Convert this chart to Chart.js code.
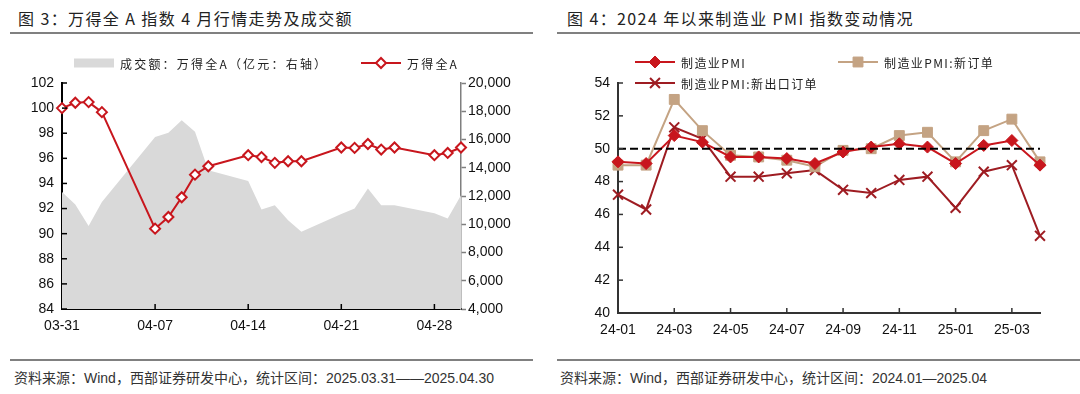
<!DOCTYPE html>
<html>
<head>
<meta charset="utf-8">
<script src="https://cdn.jsdelivr.net/npm/chart.js@4.4.1/dist/chart.umd.min.js"></script>
<style>
  body { margin: 0; width: 1080px; height: 394px; background: #fff; position: relative; overflow: hidden; }
  .title { position: absolute; top: 6px; height: 20px; line-height: 20px; font: 16px 'Noto Sans CJK SC', sans-serif; color: #222; white-space: nowrap; letter-spacing: 1.4px; }
  .rule { position: absolute; height: 2px; background: #808080; }
  .source { position: absolute; top: 369px; line-height: 18px; font-size: 14px; font-family: 'Liberation Sans', 'Noto Sans CJK SC', sans-serif; color: #333; white-space: nowrap; }
  canvas { position: absolute; }
</style>
</head>
<body>
<div class="title" style="left:18px">图 3：万得全 A 指数 4 月行情走势及成交额</div>
<div class="title" style="left:567px">图 4：2024 年以来制造业 PMI 指数变动情况</div>
<div class="rule" style="left:10px;width:523px;top:32px"></div>
<div class="rule" style="left:557px;width:523px;top:32px"></div>
<div class="rule" style="left:10px;width:523px;top:359px"></div>
<div class="rule" style="left:557px;width:523px;top:359px"></div>
<div class="source" style="left:14px">资料来源：Wind，西部证券研发中心，统计区间：2025.03.31——2025.04.30</div>
<div class="source" style="left:560px">资料来源：Wind，西部证券研发中心，统计区间：2024.01—2025.04</div>

<canvas id="left" width="520" height="320" style="left:0;top:40px"></canvas>
<canvas id="right" width="540" height="320" style="left:540px;top:40px"></canvas>

<script>
// 图3 数据：交易日、万得全A（指数化）、成交额（亿元）
const tradeDays = ['03-31','04-01','04-02','04-03','04-07','04-08','04-09','04-10','04-11',
  '04-14','04-15','04-16','04-17','04-18','04-21','04-22','04-23','04-24','04-25','04-28','04-29','04-30'];
const windA = [100.0, 100.43, 100.48, 99.68, 90.4, 91.33, 92.9, 94.7, 95.37,
  96.25, 96.1, 95.64, 95.77, 95.77, 96.86, 96.83, 97.14, 96.7, 96.86, 96.25, 96.43, 96.86];
const turnover = [12290, 11400, 9870, 11570, 16180, 16470, 17360, 16540, 13830,
  13070, 11050, 11350, 10290, 9470, 10720, 11120, 12530, 11350, 11350, 10770, 10410, 12060];
const dayTicks = ['03-31','04-07','04-14','04-21','04-28'];

// 图4 数据
const months = ['24-01','24-02','24-03','24-04','24-05','24-06','24-07','24-08',
  '24-09','24-10','24-11','24-12','25-01','25-02','25-03','25-04'];
const pmi = [49.2, 49.1, 50.8, 50.4, 49.5, 49.5, 49.4, 49.1, 49.8, 50.1, 50.3, 50.1, 49.1, 50.2, 50.5, 49.0];
const newOrders = [49.0, 49.0, 53.0, 51.1, 49.6, 49.5, 49.3, 48.9, 49.9, 50.0, 50.8, 51.0, 49.2, 51.1, 51.8, 49.2];
const newExport = [47.2, 46.3, 51.3, 50.6, 48.3, 48.3, 48.5, 48.7, 47.5, 47.3, 48.1, 48.3, 46.4, 48.6, 49.0, 44.7];
const boomLine = 50;

// 03-31 记为第0天，4月按日期计
const dayIndex = s => s.startsWith('03') ? 0 : +s.slice(3);

const RED = '#C8161D';
const TAN = '#C4A383';
const DARKRED = '#9E1C22';
const TICK_FONT = { family: "'Liberation Sans', Arial, sans-serif", size: 14 };

// 向内的刻度线
const insideTicks = {
  id: 'insideTicks',
  afterDraw(chart, args, opts) {
    const { ctx, chartArea: a } = chart;
    ctx.save();
    ctx.strokeStyle = opts.color || '#000';
    ctx.lineWidth = 1.5;
    (opts.axes || []).forEach(id => {
      const s = chart.scales[id];
      s.ticks.forEach((t, i) => {
        const p = s.getPixelForTick(i);
        ctx.beginPath();
        if (s.isHorizontal()) {
          if (!t.label || Math.abs(p - a.left) < 1) return;
          ctx.moveTo(p, a.bottom); ctx.lineTo(p, a.bottom - 5);
        } else {
          ctx.moveTo(a.left, p); ctx.lineTo(a.left + 5, p);
        }
        ctx.stroke();
      });
    });
    ctx.restore();
  }
};

// 图例：线+标记 或 色块
const lineLegend = {
  id: 'lineLegend',
  afterDraw(chart, args, opts) {
    const ctx = chart.ctx;
    ctx.save();
    ctx.font = "12px 'Noto Sans CJK SC', sans-serif";
    ctx.letterSpacing = opts.spacing || '1.4px';
    ctx.textBaseline = 'middle';
    (opts.items || []).forEach(it => {
      const ds = chart.data.datasets[it.ds];
      if (it.box) {
        ctx.fillStyle = ds.backgroundColor;
        ctx.fillRect(it.x, it.y - 4.5, 40, 9);
      } else {
        ctx.strokeStyle = ds.borderColor;
        ctx.lineWidth = 2;
        ctx.beginPath(); ctx.moveTo(it.x, it.y); ctx.lineTo(it.x + 40, it.y); ctx.stroke();
        ctx.fillStyle = ds.pointBackgroundColor;
        ctx.strokeStyle = ds.pointBorderColor || ds.borderColor;
        ctx.lineWidth = ds.pointBorderWidth || 2;
        Chart.helpers.drawPoint(ctx, { pointStyle: ds.pointStyle, radius: ds.pointRadius, rotation: 0, borderWidth: ctx.lineWidth }, it.x + 20, it.y);
      }
      ctx.fillStyle = '#222';
      ctx.fillText(ds.label, it.x + 46, it.y + 1);
    });
    ctx.restore();
  }
};

new Chart(document.getElementById('left'), {
  type: 'line',
  data: {
    datasets: [{
      label: '成交额：万得全A（亿元：右轴）',
      data: tradeDays.map((d, i) => ({ x: dayIndex(d), y: turnover[i] })),
      yAxisID: 'y1',
      fill: 'start',
      backgroundColor: '#D9D9D9',
      borderColor: 'rgba(0,0,0,0)',
      borderWidth: 0,
      pointRadius: 0,
      order: 2
    }, {
      label: '万得全A',
      data: tradeDays.map((d, i) => ({ x: dayIndex(d), y: windA[i] })),
      yAxisID: 'y',
      borderColor: RED,
      borderWidth: 2,
      pointStyle: 'rectRot',
      pointRadius: 5,
      pointBackgroundColor: '#fff',
      pointBorderColor: RED,
      pointBorderWidth: 2,
      clip: false,
      order: 1
    }]
  },
  options: {
    responsive: false,
    animation: false,
    layout: { padding: { top: 43, left: 0, right: 0, bottom: 0 } },
    plugins: {
      legend: { display: false },
      tooltip: { enabled: false },
      insideTicks: { axes: ['x', 'y'], color: '#000' },
      lineLegend: { spacing: '2.2px', items: [{ ds: 0, box: true, x: 74, y: 23 }, { ds: 1, x: 361, y: 23 }] }
    },
    scales: {
      x: {
        type: 'linear', min: 0, max: 30,
        afterBuildTicks: s => { s.ticks = dayTicks.map(d => ({ value: dayIndex(d) })); },
        afterFit: s => { s.height = 51; },
        ticks: {
          callback: v => dayTicks.find(d => dayIndex(d) === v) || '',
          font: TICK_FONT, color: '#111', padding: 9, maxRotation: 0, autoSkip: false
        },
        grid: { display: false, drawTicks: false },
        border: { color: '#000', width: 2 }
      },
      y: {
        position: 'left', min: 84, max: 102,
        afterFit: s => { s.width = 62; },
        ticks: { stepSize: 2, font: TICK_FONT, color: '#111', padding: 8 },
        grid: { display: false, drawTicks: false },
        border: { color: '#000', width: 2 }
      },
      y1: {
        position: 'right', min: 4000, max: 20000,
        afterFit: s => { s.width = 59; },
        ticks: {
          stepSize: 2000, font: TICK_FONT, color: '#111', padding: 2,
          callback: v => v.toLocaleString('en-US')
        },
        grid: { drawOnChartArea: false, drawTicks: true, tickLength: 5, tickColor: '#7f7f7f', tickWidth: 1.5 },
        border: { color: '#7f7f7f', width: 1.5 }
      }
    }
  },
  plugins: [insideTicks, lineLegend]
});

new Chart(document.getElementById('right'), {
  type: 'line',
  data: {
    labels: months,
    datasets: [{
      label: '制造业PMI',
      data: pmi,
      borderColor: RED,
      borderWidth: 2,
      pointStyle: 'rectRot',
      pointRadius: 6,
      pointBackgroundColor: RED,
      pointBorderColor: RED,
      pointBorderWidth: 1,
      clip: false,
      order: 1
    }, {
      label: '制造业PMI:新订单',
      data: newOrders,
      borderColor: TAN,
      borderWidth: 2,
      pointStyle: 'rect',
      pointRadius: 7,
      pointBackgroundColor: TAN,
      pointBorderColor: TAN,
      pointBorderWidth: 1,
      clip: false,
      order: 2
    }, {
      label: '制造业PMI:新出口订单',
      data: newExport,
      borderColor: DARKRED,
      borderWidth: 2,
      pointStyle: 'crossRot',
      pointRadius: 7,
      pointBackgroundColor: DARKRED,
      pointBorderColor: DARKRED,
      pointBorderWidth: 2,
      clip: false,
      order: 3
    }, {
      label: '荣枯线',
      data: months.map(() => boomLine),
      borderColor: '#000',
      borderWidth: 2,
      borderDash: [8, 4],
      pointRadius: 0,
      order: 0
    }]
  },
  options: {
    responsive: false,
    animation: false,
    layout: { padding: { top: 43, left: 0, right: 40, bottom: 0 } },
    plugins: {
      legend: { display: false },
      tooltip: { enabled: false },
      insideTicks: { axes: ['x', 'y'], color: '#333' },
      lineLegend: { items: [{ ds: 0, x: 95, y: 22 }, { ds: 1, x: 298, y: 22 }, { ds: 2, x: 95, y: 43 }] }
    },
    scales: {
      x: {
        offset: false,
        afterFit: s => { s.height = 47; },
        ticks: {
          callback: (v, i) => i % 2 === 0 ? months[i] : '',
          font: TICK_FONT, color: '#111', padding: 9, maxRotation: 0, autoSkip: false
        },
        grid: { display: false, drawTicks: false },
        border: { color: '#333', width: 2 }
      },
      y: {
        min: 40, max: 54,
        afterFit: s => { s.width = 78; },
        ticks: { stepSize: 2, font: TICK_FONT, color: '#111', padding: 8 },
        grid: { display: false, drawTicks: false },
        border: { color: '#333', width: 2 }
      }
    }
  },
  plugins: [insideTicks, lineLegend]
});
</script>
</body>
</html>
